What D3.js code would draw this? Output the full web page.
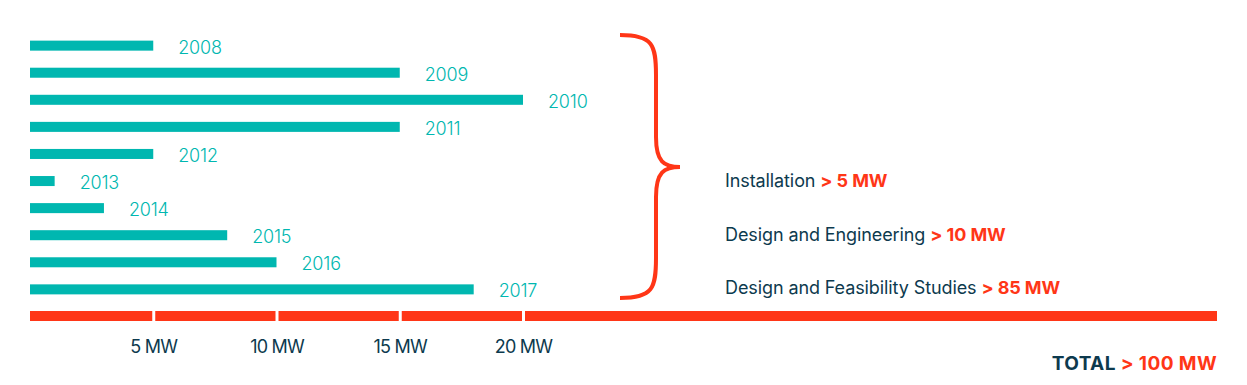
<!DOCTYPE html>
<html>
<head>
<meta charset="utf-8">
<script src="https://cdn.jsdelivr.net/npm/d3@7"></script>
<style>
  body { margin: 0; background: #fff; }
  svg { display: block; font-family: Inter, "Noto Sans", sans-serif; }
</style>
</head>
<body>
<svg id="chart" width="1247" height="385"></svg>
<script>
const years = ["2008", "2009", "2010", "2011", "2012", "2013", "2014", "2015", "2016", "2017"];
const capacityMW = [5, 15, 20, 15, 5, 1, 3, 8, 10, 18];
const tickValues = [5, 10, 15, 20];
const categories = ["Installation", "Design and Engineering", "Design and Feasibility Studies"];
const categoryTotals = ["> 5 MW", "> 10 MW", "> 85 MW"];
const totalLabel = "> 100 MW";

const teal = "#00b7b0";
const red = "#ff3617";
const navy = "#0d3a4e";

const svg = d3.select("#chart");

//Scales
const x = d3.scaleLinear().domain([0, 20]).range([30, 523]);
const y = d3.scaleBand().domain(years).range([32.5, 302.5]).paddingInner(0.63).paddingOuter(0.3);

//Bars
const rows = years.map((yr, i) => ({ year: yr, value: capacityMW[i] }));
svg.append("g")
  .selectAll("rect")
  .data(rows)
  .join("rect")
    .attr("x", x(0))
    .attr("y", d => y(d.year))
    .attr("width", d => x(d.value) - x(0))
    .attr("height", y.bandwidth())
    .attr("fill", teal);

svg.append("g")
  .selectAll("text")
  .data(rows)
  .join("text")
    .attr("x", d => x(d.value) + 25)
    .attr("y", d => y(d.year) + y.bandwidth() / 2 + 8)
    .attr("fill", teal)
    .attr("font-weight", 300)
    .style("font-size", "18px")
    .style("letter-spacing", "-0.2px")
    .text(d => d.year);

//Axis line with white gaps at ticks
const axisY = 316;
const xEnd = 1217;
svg.append("line")
  .attr("x1", x(0)).attr("x2", xEnd)
  .attr("y1", axisY).attr("y2", axisY)
  .attr("stroke", red).attr("stroke-width", 10);

const axis = d3.axisBottom(x)
  .tickValues(tickValues)
  .tickSize(0)
  .tickPadding(0)
  .tickFormat(d => d + " MW");
const ax = svg.append("g")
  .attr("transform", `translate(0,${axisY})`)
  .call(axis);
ax.select(".domain").remove();
ax.selectAll(".tick").append("line")
  .attr("y1", -6).attr("y2", 6)
  .attr("stroke", "#fff").attr("stroke-width", 3);
ax.selectAll(".tick text")
  .attr("y", 37)
  .attr("dy", 0)
  .attr("fill", navy)
  .style("font-family", "Inter, sans-serif")
  .style("font-size", "18px")
  .style("letter-spacing", "-0.8px");

//Curly brace
const braceLeft = 620, braceTop = 35, braceBottom = 298, tipX = 680;
const mid = (braceTop + braceBottom) / 2 + 0.5;
const braceX = 656;
const brace = d3.path();
brace.moveTo(braceLeft, braceTop);
brace.bezierCurveTo(braceX - 3, braceTop, braceX, braceTop + 10, braceX, braceTop + 40);
brace.lineTo(braceX, mid - 30);
brace.bezierCurveTo(braceX, mid - 5, braceX + 8, mid, tipX, mid);
brace.moveTo(tipX, mid);
brace.bezierCurveTo(braceX + 8, mid, braceX, mid + 5, braceX, mid + 30);
brace.lineTo(braceX, braceBottom - 40);
brace.bezierCurveTo(braceX, braceBottom - 10, braceX - 3, braceBottom, braceLeft, braceBottom);
svg.append("path")
  .attr("d", brace.toString())
  .attr("fill", "none")
  .attr("stroke", red)
  .attr("stroke-width", 4);

//Category labels
const catY = [187, 241, 294];
const cat = svg.append("g")
  .selectAll("text")
  .data(categories)
  .join("text")
    .attr("x", 725)
    .attr("y", (d, i) => catY[i])
    .attr("fill", navy)
    .style("font-size", "18px")
    .style("letter-spacing", "-0.1px");
cat.append("tspan").text(d => d + " ");
cat.append("tspan")
  .attr("fill", red)
  .attr("font-weight", 700)
  .text((d, i) => categoryTotals[i]);

//Total
const tot = svg.append("text")
  .attr("x", xEnd)
  .attr("y", 370)
  .attr("text-anchor", "end")
  .attr("font-weight", 700)
  .style("font-size", "19px")
  .style("letter-spacing", "0.4px")
  .attr("fill", navy);
tot.append("tspan").text("TOTAL ");
tot.append("tspan").attr("fill", red).text(totalLabel);
</script>
</body>
</html>
